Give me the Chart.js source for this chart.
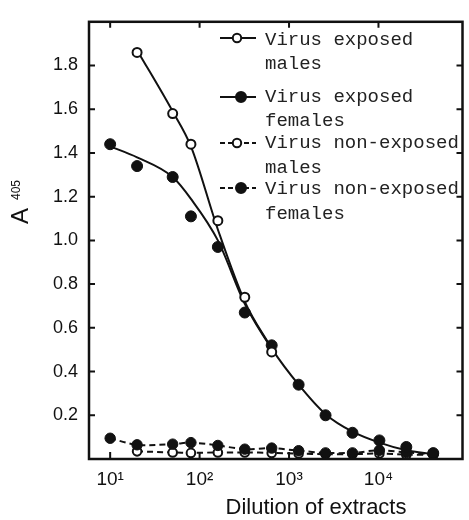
<!DOCTYPE html>
<html>
<head>
<meta charset="utf-8">
<script src="https://cdn.jsdelivr.net/npm/chart.js@4.4.1/dist/chart.umd.min.js"></script>
<style>
  html, body { margin: 0; padding: 0; background: #fff; }
  #wrap { width: 469px; height: 520px; }
</style>
</head>
<body>
<div id="wrap"><canvas id="chart" width="469" height="520"></canvas></div>
<script>
// dilution steps (x, log scale)
var dilutions = [10, 20, 50, 80, 160, 320, 640, 1280, 2560, 5120, 10240, 20480, 40960];
var maleDilutions = [20, 50, 80, 160, 320, 640];
var nonExpMaleDilutions = [20, 50, 80, 160, 320, 640, 1280, 2560, 5120, 10240, 20480, 40960];

// measured A405 values
var exposedMales = [1.86, 1.58, 1.44, 1.09, 0.74, 0.49];
var exposedFemales = [1.44, 1.34, 1.29, 1.11, 0.97, 0.67, 0.52, 0.34, 0.20, 0.12, 0.085, 0.055, 0.027];
var nonExposedMales = [0.035, 0.03, 0.028, 0.03, 0.03, 0.028, 0.025, 0.022, 0.022, 0.025, 0.02, 0.02];
var nonExposedFemales = [0.095, 0.065, 0.068, 0.075, 0.062, 0.045, 0.05, 0.038, 0.028, 0.028, 0.04, 0.03, 0.022];

// fitted curves as drawn in the figure
var maleCurve = [1.87, 1.59, 1.43, 1.05, 0.72, 0.505];
var femaleCurve = [1.43, 1.38, 1.29, 1.19, 1.0, 0.71, 0.505, 0.34, 0.205, 0.125, 0.075, 0.04, 0.022];

// axis ticks
var xTickValues = [10, 100, 1000, 10000];
var xTickLabels = ['10\u00b9', '10\u00b2', '10\u00b3', '10\u2074'];
var yTickValues = [0.2, 0.4, 0.6, 0.8, 1.0, 1.2, 1.4, 1.6, 1.8];

var legendItems = [
    { lines: ['Virus exposed', 'males'], filled: false, dashed: false },
    { lines: ['Virus exposed', 'females'], filled: true, dashed: false },
    { lines: ['Virus non-exposed', 'males'], filled: false, dashed: true },
    { lines: ['Virus non-exposed', 'females'], filled: true, dashed: true }
];

function toPoints(xs, ys) {
    return xs.map(function(x, i) { return { x: x, y: ys[i] }; });
}

var ink = '#111';

// box, inward ticks, axis titles and legend
var decorPlugin = {
    id: 'decor',
    afterDatasetsDraw: function(chart) {
        var ctx = chart.ctx;
        var a = chart.chartArea;
        var xs = chart.scales.x, ys = chart.scales.y;
        ctx.save();
        ctx.strokeStyle = ink;
        ctx.lineWidth = 2.5;
        ctx.strokeRect(a.left, a.top, a.right - a.left, a.bottom - a.top);

        ctx.lineWidth = 2;
        ctx.beginPath();
        yTickValues.forEach(function(v) {
            var py = ys.getPixelForValue(v);
            ctx.moveTo(a.left, py); ctx.lineTo(a.left + 6, py);
            ctx.moveTo(a.right, py); ctx.lineTo(a.right - 6, py);
        });
        xTickValues.forEach(function(v) {
            var px = xs.getPixelForValue(v);
            ctx.moveTo(px, a.top); ctx.lineTo(px, a.top + 6);
            ctx.moveTo(px, a.bottom); ctx.lineTo(px, a.bottom - 7);
        });
        ctx.stroke();

        // axis titles
        ctx.fillStyle = ink;
        ctx.font = '22px "Liberation Sans", Arial, sans-serif';
        ctx.textAlign = 'center';
        ctx.textBaseline = 'alphabetic';
        ctx.fillText('Dilution of extracts', 316, 514);

        ctx.save();
        ctx.translate(28, 224);
        ctx.rotate(-Math.PI / 2);
        ctx.textAlign = 'left';
        ctx.font = '24px "Liberation Sans", Arial, sans-serif';
        ctx.fillText('A', 0, 0);
        ctx.font = '12px "Liberation Sans", Arial, sans-serif';
        ctx.fillText('405', 24, -8);
        ctx.restore();

        // legend
        var markerY = [38, 97, 143, 188];
        var textY = [[40, 64], [97, 121], [143, 168], [189, 214]];
        ctx.font = '19px "Liberation Mono", "DejaVu Sans Mono", monospace';
        ctx.textAlign = 'left';
        ctx.textBaseline = 'middle';
        legendItems.forEach(function(item, i) {
            var y = markerY[i];
            var cx = item.filled ? 241 : 237;
            ctx.lineWidth = 2;
            ctx.setLineDash(item.dashed ? [5, 3] : []);
            ctx.beginPath();
            ctx.moveTo(220, y); ctx.lineTo(256, y);
            ctx.stroke();
            ctx.setLineDash([]);
            ctx.beginPath();
            ctx.arc(cx, y, item.filled ? 5 : 4.2, 0, Math.PI * 2);
            ctx.fillStyle = item.filled ? ink : '#fff';
            ctx.fill();
            ctx.stroke();
            ctx.fillStyle = '#222';
            ctx.fillText(item.lines[0], 265, textY[i][0]);
            ctx.fillText(item.lines[1], 265, textY[i][1]);
        });
        ctx.restore();
    }
};

var ctx = document.getElementById('chart').getContext('2d');
var chart = new Chart(ctx, {
    type: 'line',
    data: {
        datasets: [{
            label: 'Virus exposed males (curve)',
            data: toPoints(maleDilutions, maleCurve),
            borderColor: ink,
            borderWidth: 2,
            pointRadius: 0,
            cubicInterpolationMode: 'monotone',
            order: 5
        }, {
            label: 'Virus exposed females (curve)',
            data: toPoints(dilutions, femaleCurve),
            borderColor: ink,
            borderWidth: 2,
            pointRadius: 0,
            cubicInterpolationMode: 'monotone',
            order: 5
        }, {
            label: 'Virus non-exposed males',
            data: toPoints(nonExpMaleDilutions, nonExposedMales),
            borderColor: ink,
            borderWidth: 2,
            borderDash: [6, 4],
            pointRadius: 4.3,
            pointBorderWidth: 2,
            pointBackgroundColor: '#fff',
            pointBorderColor: ink,
            tension: 0.3,
            order: 4
        }, {
            label: 'Virus non-exposed females',
            data: toPoints(dilutions, nonExposedFemales),
            borderColor: ink,
            borderWidth: 2,
            borderDash: [6, 4],
            pointRadius: 5.2,
            pointBorderWidth: 1,
            pointBackgroundColor: ink,
            pointBorderColor: ink,
            tension: 0.3,
            order: 3
        }, {
            label: 'Virus exposed females',
            data: toPoints(dilutions, exposedFemales),
            showLine: false,
            pointRadius: 5.5,
            pointBorderWidth: 1,
            pointBackgroundColor: ink,
            pointBorderColor: ink,
            order: 2
        }, {
            label: 'Virus exposed males',
            data: toPoints(maleDilutions, exposedMales),
            showLine: false,
            pointRadius: 4.5,
            pointBorderWidth: 2,
            pointBackgroundColor: '#fff',
            pointBorderColor: ink,
            order: 1
        }]
    },
    options: {
        responsive: false,
        animation: false,
        layout: { padding: { top: 11, right: 2, left: 0, bottom: 0 } },
        plugins: {
            legend: { display: false },
            tooltip: { enabled: false }
        },
        scales: {
            x: {
                type: 'logarithmic',
                min: 5.8,
                max: 87000,
                grid: { display: false, drawTicks: false },
                border: { display: false },
                afterBuildTicks: function(scale) {
                    scale.ticks = xTickValues.map(function(v) { return { value: v }; });
                },
                afterFit: function(scale) { scale.height = 61; },
                ticks: {
                    autoSkip: false,
                    maxRotation: 0,
                    padding: 9,
                    color: ink,
                    font: { family: '"Liberation Sans", Arial, sans-serif', size: 19 },
                    callback: function(value) {
                        var i = xTickValues.indexOf(value);
                        return i >= 0 ? xTickLabels[i] : '';
                    }
                }
            },
            y: {
                min: 0,
                max: 2.0,
                grid: { display: false, drawTicks: false },
                border: { display: false },
                afterBuildTicks: function(scale) {
                    scale.ticks = yTickValues.map(function(v) { return { value: v }; });
                },
                afterFit: function(scale) { scale.width = 89; },
                ticks: {
                    padding: 11,
                    color: ink,
                    font: { family: '"Liberation Sans", Arial, sans-serif', size: 18 },
                    callback: function(value) { return value.toFixed(1); }
                }
            }
        }
    },
    plugins: [decorPlugin]
});
</script>
</body>
</html>
